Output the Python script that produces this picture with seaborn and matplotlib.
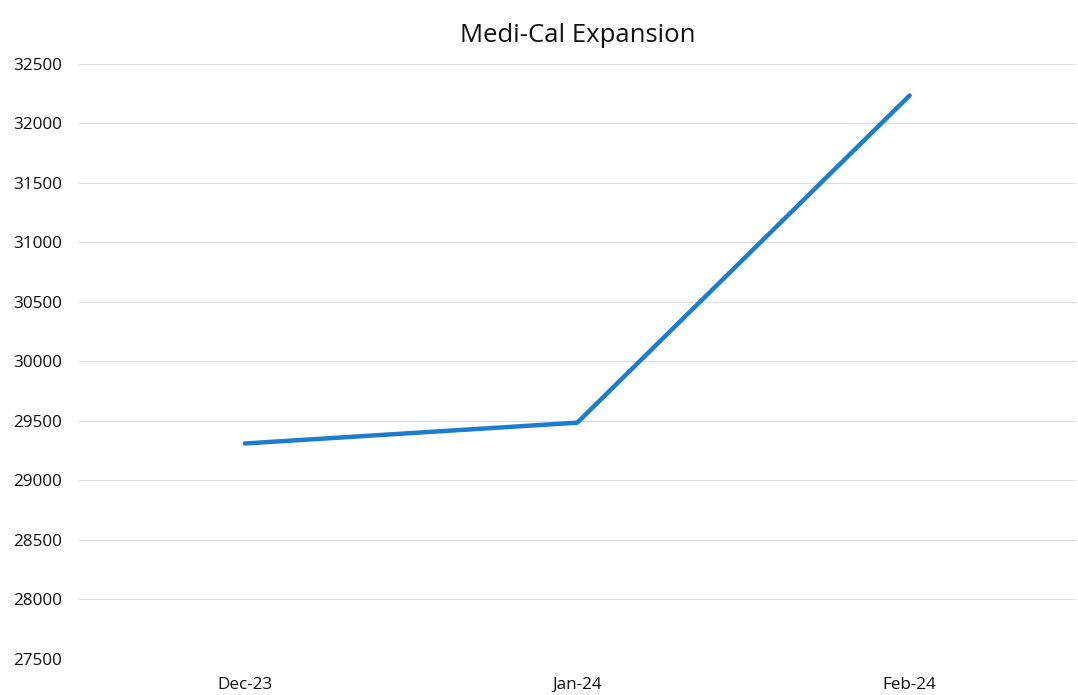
import pandas as pd
import seaborn as sns
import matplotlib.pyplot as plt

sns.set_theme(style="white")
plt.rcParams['font.family'] = ['Open Sans', 'DejaVu Sans']

# values
months = ['Dec-23', 'Jan-24', 'Feb-24']
enrollment = [29310, 29485, 32235]
y_ticks = list(range(27500, 33000, 500))

df = pd.DataFrame({'Month': months, 'Enrollment': enrollment})

fig = plt.figure(figsize=(10.78, 6.95), dpi=100)
ax = fig.add_axes([0.073, 0.052, 0.925, 0.856])

sns.lineplot(data=df, x='Month', y='Enrollment', ax=ax, sort=False,
             color='#1b7dcc', linewidth=3.2, solid_capstyle='round')

ax.set_xlim(-0.5, len(months) - 0.5)
ax.set_ylim(y_ticks[0], y_ticks[-1])
ax.set_yticks(y_ticks)
ax.set_yticklabels([str(t) for t in y_ticks])
ax.grid(axis='y', color='#dcdcdc', linewidth=0.8)
ax.set_axisbelow(True)
for s in ax.spines.values():
    s.set_visible(False)
ax.tick_params(axis='both', labelsize=12.3, colors='#111111', length=0)
ax.tick_params(axis='y', pad=12)
ax.tick_params(axis='x', pad=13)
ax.set_xlabel('')
ax.set_ylabel('')
ax.set_title('Medi-Cal Expansion', fontsize=18.5, color='#111111', pad=16)

fig.savefig('out.png', dpi=100)
